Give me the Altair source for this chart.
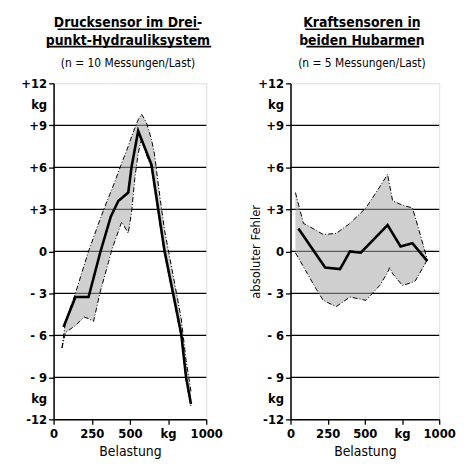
import altair as alt
import pandas as pd

FONT = "'DejaVu Sans Condensed', 'Liberation Sans Narrow', 'Roboto Condensed', 'DejaVu Sans', sans-serif"

# ---- left panel: Drucksensor im Dreipunkt-Hydrauliksystem ----
L_title = ["Drucksensor im Drei-", "punkt-Hydrauliksystem"]
L_subtitle = "(n = 10 Messungen/Last)"
L_mean_x = [65, 143, 229, 305, 375, 424, 489, 511, 554, 641, 727, 781, 836, 868, 900]
L_mean_y = [-5.4, -3.26, -3.26, -0.1, 2.5, 3.6, 4.2, 6.05, 8.6, 6.2, 0.0, -2.9, -5.9, -9.0, -10.9]
L_band_x = [55, 78, 143, 200, 229, 262, 305, 359, 381, 446, 489, 511, 532, 554, 576, 608, 641, 660, 700, 727, 781, 836, 868, 900]
L_band_hi = [-6.9, -5.0, -3.0, -1.0, 0.0, 1.0, 2.3, 3.84, 4.4, 6.3, 7.5, 8.2, 8.8, 9.4, 9.8, 9.2, 8.0, 7.0, 3.6, 1.5, -1.6, -4.8, -7.8, -10.0]
L_band_lo = [-6.9, -5.8, -5.3, -4.7, -4.8, -5.0, -2.9, -0.8, 0.1, 2.1, 1.3, 2.8, 5.2, 7.0, 8.0, 6.9, 6.0, 4.6, 1.7, -0.2, -3.1, -6.1, -9.2, -11.1]

# ---- right panel: Kraftsensoren in beiden Hubarmen ----
R_title = ["Kraftsensoren in", "beiden Hubarmen"]
R_subtitle = "(n = 5 Messungen/Last)"
R_ytitle = "absoluter Fehler"
R_mean_x = [53, 233, 333, 400, 473, 653, 740, 820, 920]
R_mean_y = [1.63, -1.16, -1.27, 0.0, -0.1, 1.87, 0.35, 0.58, -0.7]
R_band_x = [33, 87, 173, 220, 307, 400, 507, 600, 653, 667, 687, 753, 820, 840, 920]
R_band_hi = [4.2, 2.0, 1.5, 1.2, 1.28, 2.0, 3.1, 4.6, 5.5, 4.7, 3.6, 3.3, 3.1, 2.4, -0.6]
R_band_lo = [-0.1, -1.1, -2.7, -3.5, -3.95, -3.26, -3.5, -2.44, -1.5, -1.16, -1.6, -2.44, -2.2, -2.1, -0.6]

X_TITLE = "Belastung"
GRID_Y = [-9, -6, -3, 0, 3, 6, 9]
Y_TICKS = [-12, -10.5, -9, -6, -3, 0, 3, 6, 9, 10.5, 12]
X_TICKS = [0, 250, 500, 750, 1000]
X_LABELS = ["0", "250", "500", "kg", "1000"]

Y_LABEL_EXPR = ("abs(datum.value) == 10.5 ? 'kg' : datum.value == 12 ? '+12' : "
                "datum.value == -12 ? '-12' : datum.value > 0 ? '+' + datum.value : "
                "datum.value < 0 ? '- ' + abs(datum.value) : '0'")
X_LABEL_EXPR = "{}[indexof({}, round(datum.value))]".format(
    "[" + ",".join("'" + s + "'" for s in X_LABELS) + "]",
    "[" + ",".join(str(v) for v in X_TICKS) + "]",
)

H = 339


def panel(mean_x, mean_y, band_x, band_hi, band_lo, title_lines, subtitle, ytitle, cx, underlines, width):
    mean_df = pd.DataFrame({"x": mean_x, "y": mean_y})
    band_df = pd.DataFrame({"x": band_x, "hi": band_hi, "lo": band_lo})
    grid_df = pd.DataFrame({"y": GRID_Y})

    xs = alt.Scale(domain=[0, 1000], nice=False, zero=False)
    ys = alt.Scale(domain=[-12, 12], nice=False, zero=False)
    yaxis_kw = dict(
        values=Y_TICKS, labelExpr=Y_LABEL_EXPR, grid=False, labelOverlap=False,
        tickSize=5, tickColor="black", tickWidth=1.3,
        tickOpacity={"condition": {"test": "abs(datum.value) == 10.5", "value": 0}, "value": 1},
        labelFont=FONT, labelFontSize=13, labelFontWeight="bold", labelColor="black", labelPadding=2,
        domainColor="black", domainWidth=1.5, titleFont=FONT, titleFontSize=13,
        titleFontWeight="normal", titleColor="black", titlePadding=-5,
    )
    yaxis = alt.Axis(title=ytitle, **yaxis_kw) if ytitle else alt.Axis(title=None, **yaxis_kw)
    xaxis = alt.Axis(
        values=X_TICKS, labelExpr=X_LABEL_EXPR, grid=False, title=X_TITLE,
        labelOverlap=False, labelFlush=False, labelBound=False,
        tickSize=5, tickColor="black", tickWidth=1.3,
        labelFont=FONT, labelFontSize=13, labelFontWeight="bold", labelColor="black", labelPadding=3,
        domainColor="black", domainWidth=1.5, titleFont=FONT, titleFontSize=14,
        titleFontWeight="normal", titleColor="black", titlePadding=4,
    )

    gridl = alt.Chart(grid_df).mark_rule(color="black", strokeWidth=1.3).encode(
        y=alt.Y("y:Q", scale=ys, axis=yaxis)
    )
    area = alt.Chart(band_df).mark_area(color="#a8a8a8", opacity=0.55).encode(
        x=alt.X("x:Q", scale=xs, axis=xaxis),
        y=alt.Y("hi:Q", scale=ys, axis=yaxis),
        y2="lo:Q",
    )
    hi_line = alt.Chart(band_df).mark_line(color="black", strokeWidth=1, strokeDash=[5, 2, 1, 2]).encode(
        x=alt.X("x:Q", scale=xs, axis=xaxis), y=alt.Y("hi:Q", scale=ys, axis=yaxis)
    )
    lo_line = alt.Chart(band_df).mark_line(color="black", strokeWidth=1, strokeDash=[5, 2, 1, 2]).encode(
        x=alt.X("x:Q", scale=xs, axis=xaxis), y=alt.Y("lo:Q", scale=ys, axis=yaxis)
    )
    mean = alt.Chart(mean_df).mark_line(color="black", strokeWidth=2.6).encode(
        x=alt.X("x:Q", scale=xs, axis=xaxis), y=alt.Y("y:Q", scale=ys, axis=yaxis)
    )

    one = pd.DataFrame({"a": [0]})
    texts = []
    for line, yy in zip(title_lines, [-57, -39]):
        texts.append(
            alt.Chart(one).mark_text(
                text=line, font=FONT, fontSize=14, fontWeight="bold", color="black",
                align="center", baseline="alphabetic",
            ).encode(x=alt.value(cx), y=alt.value(yy))
        )
    texts.append(
        alt.Chart(one).mark_text(
            text=subtitle, font=FONT, fontSize=12, color="black",
            align="center", baseline="alphabetic",
        ).encode(x=alt.value(cx), y=alt.value(-16))
    )
    ul = [
        alt.Chart(one).mark_rule(color="black", strokeWidth=1.6).encode(
            x=alt.value(u[0]), x2=alt.value(u[1]), y=alt.value(u[2])
        )
        for u in underlines
    ]
    return alt.layer(gridl, area, hi_line, lo_line, mean, *texts, *ul).properties(width=width, height=H)


left = panel(L_mean_x, L_mean_y, L_band_x, L_band_hi, L_band_lo,
             L_title, L_subtitle, None, 75,
             [(4, 147, -54.5), (-6, 159, -37)], 154)
right = panel(R_mean_x, R_mean_y, R_band_x, R_band_hi, R_band_lo,
              R_title, R_subtitle, R_ytitle, 72,
              [(15, 130, -54.5), (16, 130, -37)], 150)

chart = alt.hconcat(left, right, spacing=26).properties(
    padding={"left": 12, "top": 5, "right": 5, "bottom": 0}
).configure_view(stroke="black", strokeWidth=1.5).configure(background="white")

chart.save("out.html", embed_options={"renderer": "svg", "actions": False})
